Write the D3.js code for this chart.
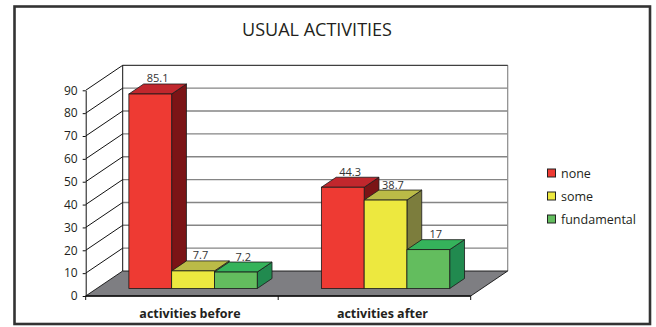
<!DOCTYPE html>
<html>
<head>
<meta charset="utf-8">
<script src="https://cdn.jsdelivr.net/npm/d3@7/dist/d3.min.js"></script>
<style>
  html, body { margin: 0; padding: 0; background: #fff; }
  svg { display: block; font-family: "Open Sans", "DejaVu Sans", sans-serif; }
</style>
</head>
<body>
<svg id="chart" width="656" height="327"></svg>
<script>
// Chart data
const categories = ["activities before", "activities after"];
const seriesNames = ["none", "some", "fundamental"];
const noneValues = [85.1, 44.3];
const someValues = [7.7, 38.7];
const fundamentalValues = [7.2, 17];
const yTicks = [0, 10, 20, 30, 40, 50, 60, 70, 80, 90];

const seriesValues = [noneValues, someValues, fundamentalValues];

// Face colours per series: front, top, side
const palette = [
  { front: "#ee3a33", top: "#c1272d", side: "#7b1416" },
  { front: "#ede83f", top: "#bbbb47", side: "#7c7d3d" },
  { front: "#63bd5e", top: "#35b35b", side: "#218a4f" }
];

const svg = d3.select("#chart");

// Outer frame
svg.append("rect")
  .attr("x", 14.5).attr("y", 6.5).attr("width", 635.5).attr("height", 317.5)
  .attr("fill", "#fff").attr("stroke", "#333").attr("stroke-width", 2.6);

// Title
svg.append("text")
  .attr("x", 317).attr("y", 35.5)
  .attr("text-anchor", "middle")
  .attr("font-size", 18.5)
  .attr("fill", "#231f20")
  .attr("textLength", 150).attr("lengthAdjust", "spacingAndGlyphs")
  .text("USUAL ACTIVITIES");

// Scales (front plane)
const x = d3.scaleBand().domain(categories).range([85.7, 470.7]).paddingInner(0).paddingOuter(0);
const y = d3.scaleLinear().domain([0, 90]).range([296, 90.3]);
const bw = x.bandwidth();
const xs = d3.scaleBand().domain(seriesNames).range([bw / 6, bw * 5 / 6]).paddingInner(0);

// Depth of the 3-D box
const DX = 37, DY = -25;
// Bars sit in the middle of the floor depth
const bFrontFrac = 0.3, bBackFrac = 0.7;

const x0 = x.range()[0], x1 = x.range()[1];

// Back wall
svg.append("rect")
  .attr("x", x0 + DX).attr("y", y(90) + DY)
  .attr("width", x1 - x0).attr("height", y(0) - y(90))
  .attr("fill", "#fff");

// Back wall grid lines
svg.append("g").selectAll("line")
  .data(yTicks.filter(v => v > 0 && v < 90))
  .join("line")
  .attr("x1", x0 + DX).attr("x2", x1 + DX)
  .attr("y1", d => y(d) + DY).attr("y2", d => y(d) + DY)
  .attr("stroke", "#858585").attr("stroke-width", 1.4);

// Back wall right edge
svg.append("line")
  .attr("x1", x1 + DX).attr("x2", x1 + DX)
  .attr("y1", y(90) + DY).attr("y2", y(0) + DY)
  .attr("stroke", "#8a8a8a").attr("stroke-width", 1.2);

// Back wall top and left edges
svg.append("path")
  .attr("d", `M${x1 + DX},${y(90) + DY}H${x0 + DX}V${y(0) + DY}`)
  .attr("fill", "none").attr("stroke", "#111").attr("stroke-width", 1);

// Side wall grid lines (diagonals from the front axis to the back wall)
svg.append("g").selectAll("line")
  .data(yTicks.filter(v => v > 0))
  .join("line")
  .attr("x1", x0).attr("y1", d => y(d))
  .attr("x2", x0 + DX).attr("y2", d => y(d) + DY)
  .attr("stroke", "#111").attr("stroke-width", 1);

// Floor
svg.append("path")
  .attr("d", `M${x0},${y(0)}L${x0 + DX},${y(0) + DY}L${x1 + DX},${y(0) + DY}L${x1},${y(0)}Z`)
  .attr("fill", "#7e7e82").attr("stroke", "#111").attr("stroke-width", 0.9);

// Front y axis
const yAxis = d3.axisLeft(y).tickValues(yTicks).tickSize(3).tickSizeOuter(0).tickPadding(5);
const gy = svg.append("g").attr("transform", `translate(${x0},0)`).call(yAxis);
gy.select(".domain").attr("stroke", "#111");
gy.selectAll(".tick line").attr("stroke", "#111");
gy.selectAll(".tick text")
  .attr("font-family", "\"Open Sans\", sans-serif")
  .attr("font-size", 12).attr("fill", "#231f20");

// Front floor edge with ticks at category boundaries
svg.append("line")
  .attr("x1", x0).attr("x2", x1).attr("y1", y(0)).attr("y2", y(0))
  .attr("stroke", "#111").attr("stroke-width", 1.6);
const boundaries = categories.map(c => x(c)).concat([x1]);
svg.append("g").selectAll("line")
  .data(boundaries)
  .join("line")
  .attr("x1", d => d).attr("x2", d => d)
  .attr("y1", y(0)).attr("y2", y(0) + 4)
  .attr("stroke", "#111").attr("stroke-width", 1);

// Category labels
svg.append("g").selectAll("text")
  .data(categories)
  .join("text")
  .attr("x", d => x(d) + bw / 2 + 8)
  .attr("y", 317.5)
  .attr("text-anchor", "middle")
  .attr("font-size", 12.5).attr("font-weight", "bold")
  .attr("fill", "#231f20")
  .text(d => d);

// Bars
const fdx = DX * bFrontFrac, fdy = DY * bFrontFrac;
const ddx = DX * (bBackFrac - bFrontFrac), ddy = DY * (bBackFrac - bFrontFrac);

const bars = [];
categories.forEach((c, ci) => {
  seriesNames.forEach((s, si) => {
    bars.push({ cat: c, series: s, si, value: seriesValues[si][ci] });
  });
});

const barG = svg.append("g");
bars.forEach(b => {
  const left = x(b.cat) + xs(b.series) + fdx;
  const right = left + xs.bandwidth();
  const top = y(b.value) + fdy;
  const bottom = y(0) + fdy;
  const col = palette[b.si];
  const g = barG.append("g");
  // side face
  g.append("path")
    .attr("d", `M${right},${bottom}L${right + ddx},${bottom + ddy}L${right + ddx},${top + ddy}L${right},${top}Z`)
    .attr("fill", col.side).attr("stroke", "#1a1a1a").attr("stroke-width", 0.8).attr("stroke-linejoin", "round");
  // top face
  g.append("path")
    .attr("d", `M${left},${top}L${left + ddx},${top + ddy}L${right + ddx},${top + ddy}L${right},${top}Z`)
    .attr("fill", col.top).attr("stroke", "#1a1a1a").attr("stroke-width", 0.8).attr("stroke-linejoin", "round");
  // front face
  g.append("rect")
    .attr("x", left).attr("y", top)
    .attr("width", right - left).attr("height", bottom - top)
    .attr("fill", col.front).attr("stroke", "#1a1a1a").attr("stroke-width", 0.8);
  b.labelX = (left + right) / 2 + ddx / 2;
  b.labelY = top + ddy - 1.5;
});

// Value labels
svg.append("g").selectAll("text")
  .data(bars)
  .join("text")
  .attr("x", d => d.labelX)
  .attr("y", d => d.labelY)
  .attr("text-anchor", "middle")
  .attr("font-size", 11).attr("fill", "#333")
  .text(d => d3.format("~g")(d.value));

// Legend
const legend = svg.append("g").attr("transform", "translate(547.5,169)");
const li = legend.selectAll("g")
  .data(seriesNames)
  .join("g")
  .attr("transform", (d, i) => `translate(0,${i * 23})`);
li.append("rect")
  .attr("width", 8).attr("height", 8)
  .attr("fill", (d, i) => palette[i].front)
  .attr("stroke", "#222").attr("stroke-width", 1);
li.append("text")
  .attr("x", 13.5).attr("y", 8.6)
  .attr("font-size", 12.5).attr("fill", "#231f20")
  .text(d => d);
</script>
</body>
</html>
